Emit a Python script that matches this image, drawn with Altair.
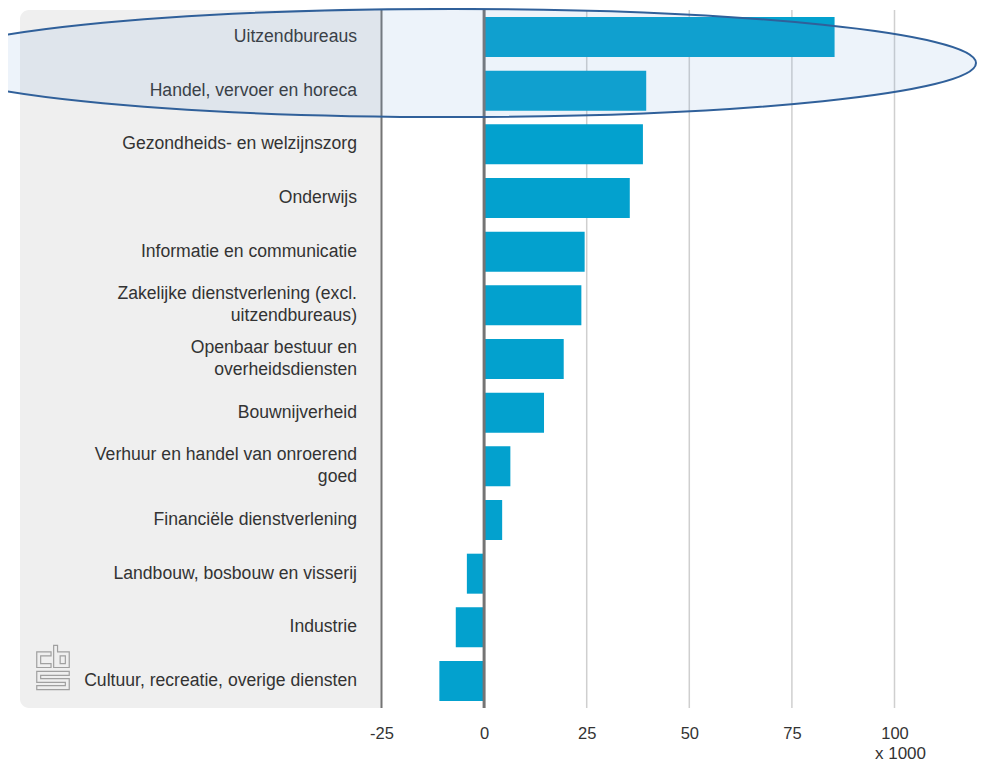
import altair as alt
import pandas as pd

# ---- data -------------------------------------------------------------
categories = [
    "Uitzendbureaus",
    "Handel, vervoer en horeca",
    "Gezondheids- en welzijnszorg",
    "Onderwijs",
    "Informatie en communicatie",
    "Zakelijke dienstverlening (excl.|uitzendbureaus)",
    "Openbaar bestuur en|overheidsdiensten",
    "Bouwnijverheid",
    "Verhuur en handel van onroerend|goed",
    "Financiële dienstverlening",
    "Landbouw, bosbouw en visserij",
    "Industrie",
    "Cultuur, recreatie, overige diensten",
]
values = [85.4, 39.5, 38.7, 35.5, 24.5, 23.7, 19.4, 14.6, 6.4, 4.4, -4.2, -6.9, -10.9]
tick_values = [-25, 0, 25, 50, 75, 100]
grid_values = [25, 50, 75, 100]
unit_label = ["x 1000"]

FONT = "Liberation Sans, Arial, sans-serif"
W, H = 513, 698

df = pd.DataFrame({"cat": categories, "value": values})
df["lines"] = df["cat"].str.count(r"\|") + 1

xscale = alt.Scale(domain=[-25, 100], nice=False, zero=False)
xaxis = alt.Axis(values=tick_values, grid=False, domain=False, ticks=False,
                 labelFontSize=16.5, labelColor="#333333", labelFont=FONT,
                 labelPadding=17, labelFlush=False, labelOverlap=False, title=None,
                 labelExpr="toString(datum.value)")
yscale = alt.Scale(domain=categories, paddingInner=0.255, paddingOuter=0.13)


def X(field):
    return alt.X(field, type="quantitative", scale=xscale, axis=xaxis)


def Y():
    return alt.Y("cat:N", scale=yscale, axis=None, sort=categories)


one = pd.DataFrame({"k": [0]})

panel = alt.Chart(one).mark_rect(
    fill="#efefef", cornerRadiusTopLeft=9, cornerRadiusBottomLeft=9
).encode(x=alt.value(-361.5), x2=alt.value(0), y=alt.value(0), y2=alt.value(H))

grid = alt.Chart(pd.DataFrame({"value": grid_values})).mark_rule(
    stroke="#cfcfcf", strokeWidth=1.5
).encode(x=X("value"), y=alt.value(0), y2=alt.value(H))

bars = alt.Chart(df).mark_bar(color="#03a1ce").encode(x=X("value"), y=Y())

zero_rule = alt.Chart(pd.DataFrame({"value": [0]})).mark_rule(
    stroke="#747474", strokeWidth=3
).encode(x=X("value"), y=alt.value(0), y2=alt.value(H))

left_rule = alt.Chart(pd.DataFrame({"value": [-25]})).mark_rule(
    stroke="#747474", strokeWidth=2
).encode(x=X("value"), y=alt.value(0), y2=alt.value(H))

label_style = dict(align="right", baseline="middle", font=FONT, fontSize=17.6,
                   color="#333333", lineBreak="|", lineHeight=22)
labels1 = alt.Chart(df).transform_filter("datum.lines == 1").mark_text(
    **label_style
).encode(text="cat:N", y=Y(), x=alt.value(-24.5))
labels2 = alt.Chart(df).transform_filter("datum.lines == 2").mark_text(
    dy=-11, **label_style
).encode(text="cat:N", y=Y(), x=alt.value(-24.5))

unit = alt.Chart(pd.DataFrame({"t": unit_label})).mark_text(
    align="right", baseline="middle", font=FONT, fontSize=17, color="#333333"
).encode(text="t:N", x=alt.value(544.5), y=alt.value(744))

logo_path = (
    "M -0.075 -0.6 L -0.625 -0.6 L -0.625 0 L -0.075 0 L -0.075 -0.15 "
    "L -0.475 -0.15 L -0.475 -0.45 L -0.075 -0.45 Z "
    "M 0.025 -0.85 L 0.175 -0.85 L 0.175 -0.6 L 0.625 -0.6 L 0.625 0 L 0.025 0 Z "
    "M 0.275 -0.45 L 0.475 -0.45 L 0.475 -0.15 L 0.275 -0.15 Z "
    "M 0.625 0.15 L -0.625 0.15 L -0.625 0.575 L 0.475 0.575 L 0.475 0.7 "
    "L -0.625 0.7 L -0.625 0.85 L 0.625 0.85 L 0.625 0.425 L -0.475 0.425 "
    "L -0.475 0.3 L 0.625 0.3 Z"
)
logo = alt.Chart(one).mark_point(
    shape=logo_path, filled=False, color="#a0a0a0", strokeWidth=1.2, opacity=1, size=2704
).encode(x=alt.value(-328.5), y=alt.value(657.5))

RX, RY = 523, 54
ellipse_path = f"M -1 0 A 1 {RY / RX:.4f} 0 1 1 1 0 A 1 {RY / RX:.4f} 0 1 1 -1 0 Z"
ellipse = alt.Chart(one).mark_point(
    shape=ellipse_path, filled=True, fill="#6f9fd7", fillOpacity=0.125,
    stroke="#30609a", strokeWidth=2, strokeOpacity=1, opacity=1,
    size=(2 * RX) ** 2
).encode(x=alt.value(71.5), y=alt.value(53))

chart = alt.layer(
    panel, grid, bars, zero_rule, left_rule, labels1, labels2, unit, logo, ellipse
).properties(
    width=W, height=H,
    autosize=alt.AutoSizeParams(type="none"),
    padding={"left": 373.5, "top": 2, "right": 83, "bottom": 54},
    background="white",
).configure_view(stroke=None)

chart.save("out.html", embed_options={"renderer": "svg", "actions": False})
